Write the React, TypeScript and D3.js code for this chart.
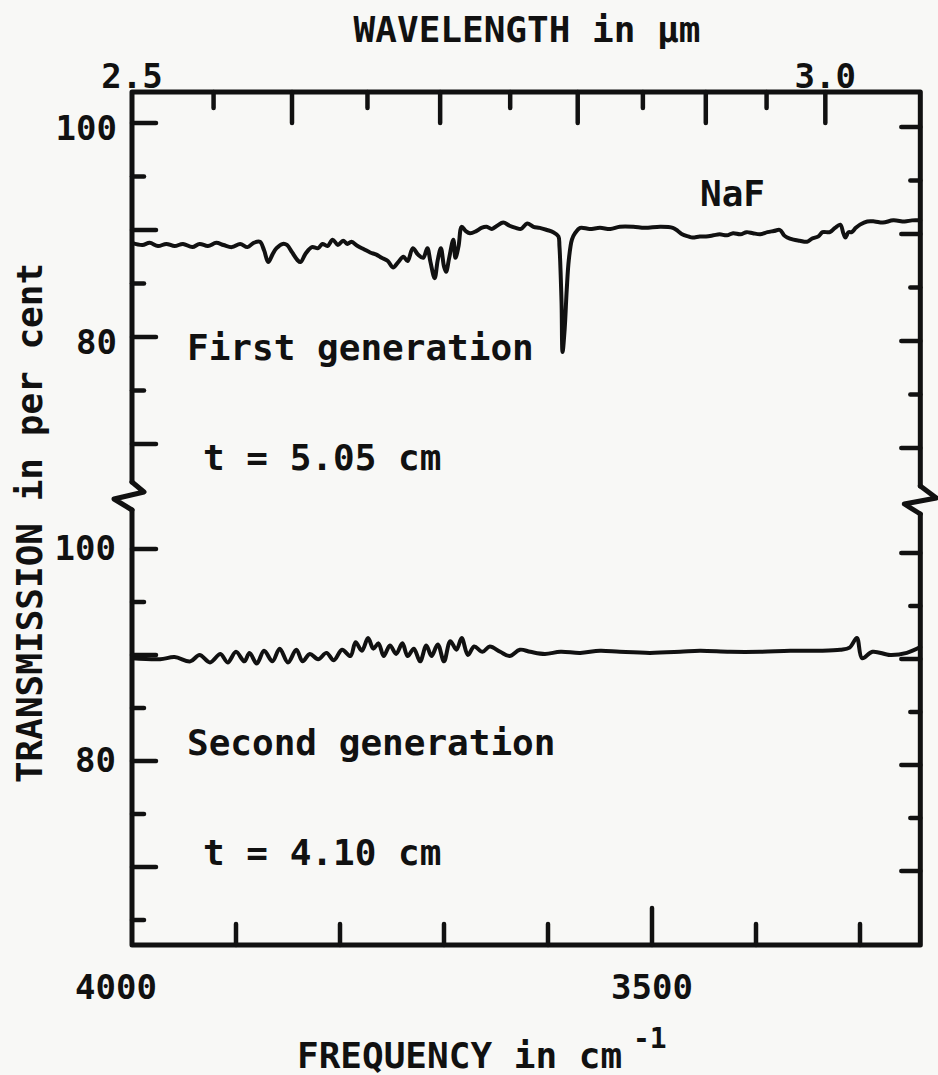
import React from "react";
import * as d3 from "d3";

const W = 938;
const H = 1075;

// First generation crystal, t = 5.05 cm: frequency (cm^-1) and transmission (%)
const firstFreq = [
  4000, 3990, 3983, 3975, 3967, 3959, 3951, 3942, 3935, 3927, 3919, 3912, 3904, 3896, 3889, 3883,
  3877, 3873, 3869, 3865, 3861, 3855, 3851, 3846, 3841, 3838, 3833, 3827, 3821, 3817, 3812, 3807,
  3802, 3797, 3793, 3789, 3783, 3777, 3771, 3765, 3760, 3754, 3749, 3744, 3739, 3735, 3730, 3725,
  3720, 3716, 3713, 3709, 3706, 3703, 3700, 3698, 3695, 3691, 3689, 3686, 3683, 3679, 3675, 3669,
  3664, 3659, 3654, 3649, 3643, 3637, 3631, 3626, 3620, 3614, 3608, 3601, 3595, 3590, 3589, 3587,
  3586, 3584, 3582, 3580, 3577, 3574, 3569, 3560, 3550, 3540, 3531, 3518, 3507, 3492, 3480, 3475,
  3471, 3465, 3461, 3454, 3448, 3441, 3435, 3428, 3422, 3415, 3409, 3403, 3396, 3389, 3383, 3377,
  3373, 3370, 3364, 3358, 3351, 3346, 3340, 3336, 3329, 3324, 3319, 3316, 3314, 3311, 3308, 3304,
  3300, 3293, 3286, 3278, 3268, 3257, 3250, 3242,
];
const firstTrans = [
  88.8, 88.6, 88.8, 88.5, 88.7, 88.5, 88.7, 88.4, 88.7, 88.5, 88.8, 88.6, 88.4, 88.7, 88.4, 88.8,
  88.9, 88.1, 87.0, 87.7, 88.3, 88.7, 88.6, 87.9, 87.2, 87.0, 87.8, 88.4, 88.3, 88.7, 88.5, 89.1,
  88.6, 89.0, 88.7, 88.9, 88.5, 88.2, 87.9, 87.7, 87.4, 87.1, 86.5, 87.0, 87.5, 87.1, 88.3, 87.7,
  87.4, 88.3, 87.0, 85.5, 87.2, 88.3, 86.6, 86.1, 87.4, 89.1, 87.4, 88.5, 90.3, 89.9, 89.7, 89.9,
  90.2, 90.3, 90.1, 90.4, 90.7, 90.4, 90.2, 90.1, 90.6, 90.3, 90.2, 90.0, 89.8, 89.4, 88.5, 83.3,
  78.6, 80.7, 84.4, 87.2, 89.1, 89.7, 90.2, 90.1, 90.2, 90.1, 90.3, 90.3, 90.2, 90.3, 90.2, 89.9,
  89.6, 89.4, 89.3, 89.4, 89.4, 89.5, 89.6, 89.5, 89.7, 89.6, 89.8, 89.7, 89.6, 89.8, 89.9, 90.0,
  89.5, 89.3, 89.1, 89.0, 88.9, 89.2, 89.4, 89.8, 89.8, 90.2, 90.5, 89.7, 89.3, 89.8, 89.8, 90.2,
  90.5, 90.8, 90.8, 90.7, 90.9, 90.8, 90.9, 90.9,
];

// Second generation crystal, t = 4.10 cm
const secondFreq = [
  4000, 3973, 3959, 3944, 3935, 3925, 3915, 3908, 3900, 3892, 3887, 3880, 3873, 3865, 3858, 3850,
  3842, 3836, 3829, 3821, 3813, 3806, 3798, 3790, 3785, 3779, 3773, 3768, 3763, 3758, 3752, 3746,
  3740, 3735, 3729, 3723, 3717, 3712, 3706, 3700, 3694, 3688, 3683, 3677, 3671, 3663, 3656, 3646,
  3637, 3627, 3617, 3603, 3588, 3569, 3550, 3531, 3502, 3473, 3454, 3425, 3396, 3367, 3338, 3319,
  3310, 3303, 3298, 3288, 3271, 3255, 3242,
];
const secondTrans = [
  89.7, 89.6, 89.8, 89.4, 90.0, 89.3, 90.1, 89.3, 90.3, 89.4, 90.2, 89.2, 90.4, 89.4, 90.6, 89.3,
  90.5, 89.4, 90.1, 89.6, 90.2, 89.5, 90.5, 89.9, 91.2, 90.4, 91.6, 90.6, 91.1, 89.9, 90.9, 90.1,
  91.1, 89.9, 90.6, 89.4, 90.9, 89.9, 91.0, 89.4, 91.3, 90.5, 91.6, 90.0, 90.8, 90.3, 90.8, 90.3,
  89.9, 90.5, 90.3, 90.1, 90.3, 90.2, 90.4, 90.3, 90.2, 90.3, 90.4, 90.3, 90.3, 90.4, 90.4, 90.5,
  90.7, 91.6, 89.7, 90.3, 90.0, 90.2, 90.75,
];

// Axis ticks
const freqTicks = [3900, 3800, 3700, 3600, 3500, 3400, 3300];
const freqMajor = [3500];
const freqLabels = [4000, 3500];
const waveTicks = [2.55, 2.6, 2.65, 2.7, 2.75, 2.8, 2.85, 2.9, 2.95, 3.0];
const waveMajor = [2.6, 2.7, 2.8, 2.9, 3.0];
const waveLabels = [2.5, 3.0];
const upperTicks = [100, 95, 90, 85, 80, 75, 70];
const lowerTicksLeft = [100, 95, 90, 85, 80, 75, 70, 65];
const lowerTicksRight = [100, 95, 90, 85, 80, 75, 70];
const transMajor = [100, 90, 80, 70];
const transLabels = [100, 80];

const INK = "#111";
const FONT = "'DejaVu Sans Mono', 'Liberation Mono', monospace";

// Frame layout (pixels)
const TOP = 92;
const BOTTOM = 945;
const BREAK_A = 482;
const BREAK_B = 510;

const x = d3.scaleLinear().domain([4000, 3500]).range([132, 652]);
const yUpper = d3.scaleLinear().domain([100, 80]).range([123, 337]);
const yLower = d3.scaleLinear().domain([100, 80]).range([549, 761]);
const LEFT = x(4000);
const RIGHT = x(3242);

const toPairs = (f: number[], t: number[]) => f.map((v, i) => [v, t[i]] as [number, number]);

function App() {
  const upperLine = d3
    .line<[number, number]>()
    .x((d) => x(d[0]))
    .y((d) => yUpper(d[1]))
    .curve(d3.curveCatmullRom.alpha(0.5));
  const lowerLine = d3
    .line<[number, number]>()
    .x((d) => x(d[0]))
    .y((d) => yLower(d[1]))
    .curve(d3.curveCatmullRom.alpha(0.5));

  const breakPath = (ax: number) =>
    `M${ax},${BREAK_A} L${ax + 12},${BREAK_A + 10} L${ax - 18},${BREAK_A + 17} L${ax},${BREAK_B}`;

  const frame =
    `M${LEFT},${BREAK_A} L${LEFT},${TOP} L${RIGHT},${TOP} L${RIGHT},${BREAK_A + 4}` +
    ` M${LEFT},${BREAK_B} L${LEFT},${BOTTOM} L${RIGHT},${BOTTOM} L${RIGHT},${BREAK_B + 4}`;

  const leftTicks = (ticks: number[], y: d3.ScaleLinear<number, number>) =>
    ticks.map((v) => (
      <line
        key={`l${v}-${y(v)}`}
        x1={LEFT}
        x2={LEFT + (transMajor.includes(v) ? 24 : 12)}
        y1={y(v)}
        y2={y(v)}
      />
    ));
  const rightTicks = (ticks: number[], y: d3.ScaleLinear<number, number>) =>
    ticks.map((v) => (
      <line
        key={`r${v}-${y(v)}`}
        x1={RIGHT}
        x2={RIGHT - (transMajor.includes(v) ? 19 : 10)}
        y1={y(v) + 4}
        y2={y(v) + 4}
      />
    ));

  return (
    <svg
      width={W}
      height={H}
      viewBox={`0 0 ${W} ${H}`}
      style={{ position: "absolute", left: 0, top: 0, background: "#f8f8f6" }}
    >
      <rect width={W} height={H} fill="#f8f8f6" />

      {/* frame with axis breaks */}
      <g fill="none" stroke={INK} strokeWidth={5} strokeLinejoin="round" strokeLinecap="round">
        <path d={frame} />
        <path d={breakPath(LEFT)} />
        <path
          d={`M${RIGHT},${BREAK_A + 4} L${RIGHT + 16},${BREAK_A + 16} L${RIGHT - 16},${BREAK_A + 22} L${RIGHT},${BREAK_B + 4}`}
        />
      </g>

      {/* ticks */}
      <g stroke={INK} strokeWidth={4.5} strokeLinecap="round">
        {freqTicks.map((f) => (
          <line
            key={`b${f}`}
            x1={x(f)}
            x2={x(f)}
            y1={BOTTOM}
            y2={BOTTOM - (freqMajor.includes(f) ? 37 : 21)}
          />
        ))}
        {waveTicks.map((w) => (
          <line
            key={`t${w}`}
            x1={x(1e4 / w)}
            x2={x(1e4 / w)}
            y1={TOP}
            y2={TOP + (waveMajor.includes(w) ? 31 : 16)}
          />
        ))}
        {leftTicks(upperTicks, yUpper)}
        {leftTicks(lowerTicksLeft, yLower)}
        {rightTicks(upperTicks, yUpper)}
        {rightTicks(lowerTicksRight, yLower)}
      </g>

      {/* spectra */}
      <g fill="none" stroke={INK} strokeWidth={4} strokeLinejoin="round" strokeLinecap="round">
        <path d={upperLine(toPairs(firstFreq, firstTrans)) || ""} />
        <path d={lowerLine(toPairs(secondFreq, secondTrans)) || ""} />
      </g>

      <g fill={INK} fontFamily={FONT} fontWeight="bold">
        {/* tick labels */}
        {transLabels.map((v) => (
          <text key={`ul${v}`} x={117} y={yUpper(v) + 7} fontSize={34} textAnchor="end" dominantBaseline="middle">
            {v}
          </text>
        ))}
        {transLabels.map((v) => (
          <text key={`ll${v}`} x={116} y={yLower(v) + 1} fontSize={34} textAnchor="end" dominantBaseline="middle">
            {v}
          </text>
        ))}
        {freqLabels.map((f) => (
          <text
            key={`fl${f}`}
            x={x(f) + (f === 4000 ? -16 : 0)}
            y={999}
            fontSize={34}
            textAnchor="middle"
          >
            {f}
          </text>
        ))}
        {waveLabels.map((w) => (
          <text key={`wl${w}`} x={x(1e4 / w)} y={88} fontSize={34} textAnchor="middle">
            {w.toFixed(1)}
          </text>
        ))}

        {/* axis titles */}
        <text x={527} y={42} fontSize={36} textAnchor="middle">
          WAVELENGTH in µm
        </text>
        <text x={297} y={1068} fontSize={36}>
          FREQUENCY in cm
        </text>
        <text x={633} y={1048} fontSize={28}>
          -1
        </text>
        <text transform="translate(42,523) rotate(-90)" fontSize={36} textAnchor="middle">
          TRANSMISSION in per cent
        </text>

        {/* annotations */}
        <text x={700} y={206} fontSize={36}>NaF</text>
        <text x={187} y={360} fontSize={36}>First generation</text>
        <text x={203} y={470} fontSize={36} xmlSpace="preserve">t = 5.05 cm</text>
        <text x={187} y={755} fontSize={36}>Second generation</text>
        <text x={203} y={865} fontSize={36} xmlSpace="preserve">t = 4.10 cm</text>
      </g>
    </svg>
  );
}

export default App;
